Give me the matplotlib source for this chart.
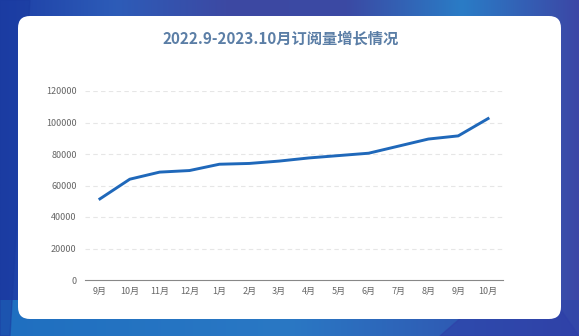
import numpy as np
import matplotlib.pyplot as plt
from matplotlib.patches import FancyBboxPatch, Polygon
from matplotlib.colors import LinearSegmentedColormap

plt.rcParams['font.family'] = ['Noto Sans CJK SC', 'DejaVu Sans']

months = ['9月', '10月', '11月', '12月', '1月', '2月', '3月', '4月',
          '5月', '6月', '7月', '8月', '9月', '10月']
subs = [51500, 64000, 68500, 69500, 73500, 74000, 75500, 77500,
        79000, 80500, 85000, 89500, 91500, 102500]
yticks = [0, 20000, 40000, 60000, 80000, 100000, 120000]
title = '2022.9-2023.10月订阅量增长情况'

W, H = 579, 336
fig = plt.figure(figsize=(W / 100, H / 100), dpi=100)

# background: blue/purple gradient
bg = fig.add_axes([0, 0, 1, 1])
bg.set_xlim(0, W)
bg.set_ylim(H, 0)
bg.axis('off')
cmap = LinearSegmentedColormap.from_list(
    'bg', ['#1d3fa6', '#2d5cb8', '#3d48a2', '#3b4aa4', '#2a7cc6', '#3c47a6'])
grad = np.linspace(0, 1, 256).reshape(1, -1)
bg.imshow(grad, cmap=cmap, extent=[0, W, H, 0], aspect='auto')
bg.add_patch(Polygon([[0, 0], [30, 0], [10, 336], [0, 336]], color='#1a3aa0', alpha=0.5))
bot = LinearSegmentedColormap.from_list('bot', ['#1f6fc0', '#2a78c4', '#3346a8'])
bg.imshow(grad, cmap=bot, extent=[0, W, H, 300], aspect='auto')
bg.add_patch(Polygon([[440, 336], [470, 310], [561, 310], [579, 336]], color='#2e3fa8', alpha=0.6))

panel = FancyBboxPatch((18 + 12, 16 + 12), 561 - 18 - 24, 319 - 16 - 24,
                       boxstyle='round,pad=12', fc='white', ec='none')
bg.add_patch(panel)
bg.text(281, 39, title, ha='center', va='center', fontsize=11,
        fontweight='bold', color='#5b7ea6')

# chart
ax = fig.add_axes([85 / W, 1 - 280 / H, (503 - 85) / W, (280 - 91) / H])
ax.set_facecolor('none')
x = np.arange(len(months))
for v in yticks[1:]:
    ax.axhline(v, color='#e6e6e6', lw=0.8, ls=(0, (4, 3)), zorder=1)
ax.plot(x, subs, color='#1f68ba', lw=2.1, solid_joinstyle='round', zorder=3)
ax.set_xlim(-0.5, len(months) - 0.5)
ax.set_ylim(0, 120000)
ax.set_yticks(yticks)
ax.set_yticklabels([str(v) for v in yticks])
ax.set_xticks(x)
ax.set_xticklabels(months)
ax.tick_params(length=0, labelsize=6.5, labelcolor='#666666')
ax.tick_params(axis='y', pad=6)
ax.tick_params(axis='x', pad=5)
for s in ['top', 'right', 'left']:
    ax.spines[s].set_visible(False)
ax.spines['bottom'].set_color('#888888')
ax.spines['bottom'].set_linewidth(0.8)

fig.savefig('out.png', dpi=100)
